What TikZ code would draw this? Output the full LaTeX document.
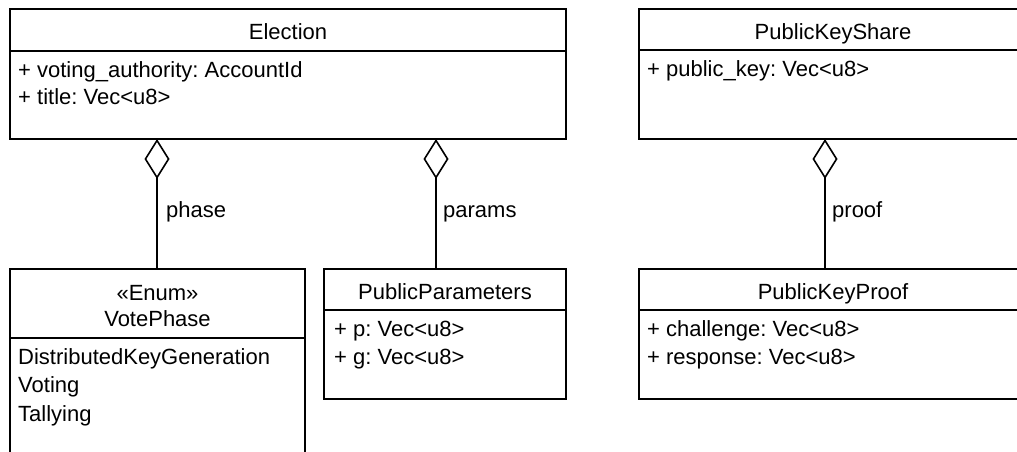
\documentclass[tikz,border=0pt]{standalone}
\usepackage{fontspec}
\setmainfont{Liberation Sans}
\frenchspacing
\usetikzlibrary{arrows.meta}
\begin{document}
\begin{tikzpicture}[x=1bp, y=-1bp,
  every node/.style={font=\fontsize{22bp}{27bp}\selectfont},
  umlbox/.style={draw, line width=1.6bp, inner sep=0pt, outer sep=0pt, fill=white},
  sep/.style={line width=1.6bp},
  txt/.style={inner sep=0pt, anchor=base west},
  ttl/.style={inner sep=0pt, anchor=base},
  agg/.style={line width=1.6bp, {Diamond[open, length=40bp, width=25bp, line width=1.6bp]}-}
]
\useasboundingbox (0,0) rectangle (1017,452);
\clip (0,0) rectangle (1017,452);
\fill[white] (0,0) rectangle (1017,452);

% class boxes
\node[umlbox, minimum width=556bp, minimum height=130bp] (election) at (288,74) {};
\node[umlbox, minimum width=295bp, minimum height=201bp] (votephase) at (157.5,369.5) {};
\node[umlbox, minimum width=242bp, minimum height=130bp] (params) at (445,334) {};
\node[umlbox, minimum width=388bp, minimum height=130bp] (keyshare) at (833,74) {};
\node[umlbox, minimum width=388bp, minimum height=130bp] (keyproof) at (833,334) {};

% compartment separators
\draw[sep] (election.west |- 0,51) -- (election.east |- 0,51);
\draw[sep] (votephase.west |- 0,338) -- (votephase.east |- 0,338);
\draw[sep] (params.west |- 0,310) -- (params.east |- 0,310);
\draw[sep] (keyshare.west |- 0,50) -- (keyshare.east |- 0,50);
\draw[sep] (keyproof.west |- 0,310) -- (keyproof.east |- 0,310);

% Election
\node[ttl] (electionT) at (288,40) {Election};
\node[txt] (electionA1) at (18,78) {+ voting\_authority: AccountId};
\node[txt] (electionA2) at (18,105) {+ title: Vec<u8>};

% VotePhase
\node[ttl] (voteS) at (157.5,301) {«Enum»};
\node[ttl] (voteT) at (157.5,327) {VotePhase};
\node[txt] (voteA1) at (18,365) {DistributedKeyGeneration};
\node[txt] (voteA2) at (18,393) {Voting};
\node[txt] (voteA3) at (18,421) {Tallying};

% PublicParameters
\node[ttl] (paramsT) at (445,300) {PublicParameters};
\node[txt] (paramsA1) at (334,337) {+ p: Vec<u8>};
\node[txt] (paramsA2) at (334,365) {+ g: Vec<u8>};

% PublicKeyShare
\node[ttl] (keyshareT) at (833,40) {PublicKeyShare};
\node[txt] (keyshareA1) at (647,77) {+ public\_key: Vec<u8>};

% PublicKeyProof
\node[ttl] (keyproofT) at (833,300) {PublicKeyProof};
\node[txt] (keyproofA1) at (647,337) {+ challenge: Vec<u8>};
\node[txt] (keyproofA2) at (647,365) {+ response: Vec<u8>};

% attachment points on the part classes
\coordinate (phaseEnd) at (157,269);
\coordinate (paramsEnd) at (436,269);
\coordinate (proofEnd) at (825,269);

% aggregations
\draw[agg] (election.south -| phaseEnd) -- (phaseEnd);
\draw[agg] (election.south -| paramsEnd) -- (paramsEnd);
\draw[agg] (keyshare.south -| proofEnd) -- (proofEnd);

% role labels
\node[txt] (phaseL) at (166,218) {phase};
\node[txt] (paramsL) at (443,218) {params};
\node[txt] (proofL) at (832,218) {proof};
\end{tikzpicture}
\end{document}
